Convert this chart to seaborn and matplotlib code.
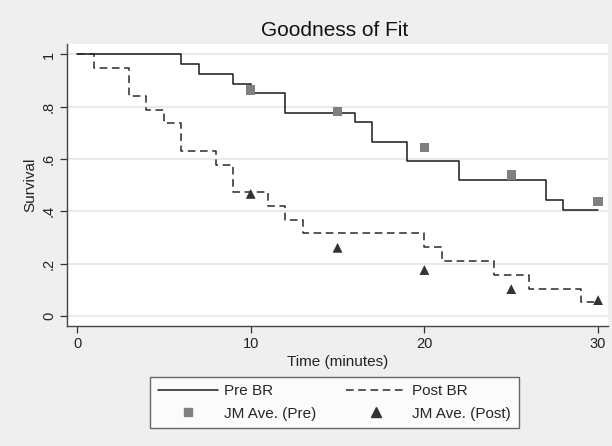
import matplotlib
matplotlib.use("Agg")
import matplotlib.pyplot as plt
import seaborn as sns
import pandas as pd
from matplotlib.lines import Line2D

# Kaplan-Meier style step data
pre_time = [0, 6, 7, 9, 10, 12, 16, 17, 19, 22, 27, 28, 30]
pre_surv = [1.0, 0.963, 0.926, 0.889, 0.852, 0.778, 0.741, 0.667, 0.593,
            0.519, 0.444, 0.407, 0.407]

post_time = [0, 1, 3, 4, 5, 6, 8, 9, 11, 12, 13, 20, 21, 24, 26, 29, 30]
post_surv = [1.0, 0.947, 0.842, 0.789, 0.737, 0.632, 0.579, 0.474, 0.421,
             0.368, 0.316, 0.263, 0.211, 0.158, 0.105, 0.053, 0.053]

jm_time = [10, 15, 20, 25, 30]
jm_pre = [0.864, 0.781, 0.645, 0.539, 0.437]
jm_post = [0.467, 0.261, 0.176, 0.103, 0.061]

y_ticks = [0, 0.2, 0.4, 0.6, 0.8, 1.0]
y_labels = ["0", ".2", ".4", ".6", ".8", "1"]
x_ticks = [0, 10, 20, 30]

sns.set_style("white")
plt.rcParams['font.family'] = ['Liberation Sans', 'DejaVu Sans']

bg = "#efefef"
fig = plt.figure(figsize=(6.12, 4.46), dpi=100, facecolor=bg)
ax = fig.add_axes([67 / 612, 120 / 446, 541 / 612, 282 / 446])
ax.set_facecolor("white")

pre_df = pd.DataFrame({"t": pre_time, "s": pre_surv})
post_df = pd.DataFrame({"t": post_time, "s": post_surv})
jm_df = pd.DataFrame({"t": jm_time, "pre": jm_pre, "post": jm_post})

dash = (0, (5, 3))
sns.lineplot(data=pre_df, x="t", y="s", ax=ax, drawstyle="steps-post",
             color="#1a1a1a", linewidth=1.1, sort=False, zorder=3)
sns.lineplot(data=post_df, x="t", y="s", ax=ax, drawstyle="steps-post",
             color="#2a2a2a", linewidth=1.1, linestyle=dash, sort=False, zorder=3)
sns.scatterplot(data=jm_df, x="t", y="pre", ax=ax, marker="s", s=45,
                color="#808080", edgecolor="none", zorder=4)
sns.scatterplot(data=jm_df, x="t", y="post", ax=ax, marker="^", s=50,
                color="#333333", edgecolor="none", zorder=4)

ax.set_xlim(-0.576, 30.57)
ax.set_ylim(-0.038, 1.04)
ax.set_xticks(x_ticks)
ax.set_yticks(y_ticks)
ax.set_yticklabels(y_labels, rotation=90, va="center")
ax.yaxis.grid(True, color="#eaeaea", linewidth=1.5)
ax.xaxis.grid(False)
ax.tick_params(axis="both", direction="out", length=5, width=0.9, color="#333333",
               labelsize=10.5, labelcolor="#222222", left=True, bottom=True, pad=3)
for side in ["top", "right"]:
    ax.spines[side].set_visible(False)
for side in ["left", "bottom"]:
    ax.spines[side].set_color("#444444")
    ax.spines[side].set_linewidth(1.0)

ax.set_xlabel("Time (minutes)", fontsize=11, color="#222222", labelpad=3)
ax.set_ylabel("Survival", fontsize=11, color="#222222", labelpad=3)
fig.text(335 / 612, 1 - 31 / 446, "Goodness of Fit", ha="center", va="center",
         fontsize=15, color="#111111")

handles = [
    Line2D([], [], color="#1a1a1a", linewidth=1.1),
    Line2D([], [], marker="s", color="#808080", linestyle="none", markersize=6),
    Line2D([], [], color="#2a2a2a", linewidth=1.1, linestyle=dash),
    Line2D([], [], marker="^", color="#333333", linestyle="none", markersize=6.5),
]
labels = ["Pre BR", "JM Ave. (Pre)", "Post BR", "JM Ave. (Post)"]
leg = fig.legend(handles, labels, ncol=2, loc="center",
                 bbox_to_anchor=(334.5 / 612, 1 - 402.5 / 446),
                 frameon=True, fancybox=False, fontsize=11,
                 handlelength=3.9, columnspacing=1.9, handletextpad=0.45,
                 borderpad=0.5, borderaxespad=0, labelspacing=0.55)
leg.get_frame().set_edgecolor("#444444")
leg.get_frame().set_linewidth(1.0)

fig.savefig("out.png", dpi=100, facecolor=bg)
